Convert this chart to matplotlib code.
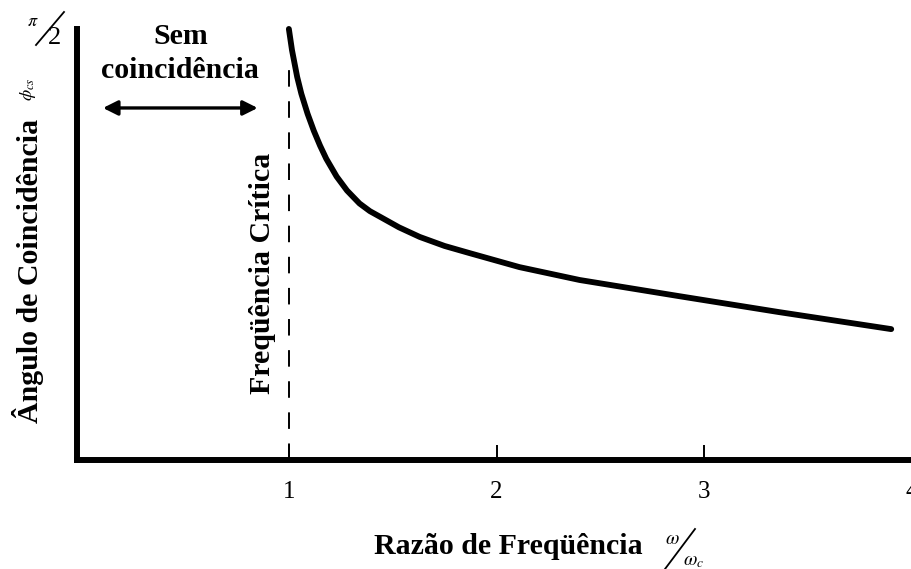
import numpy as np
from matplotlib import pyplot as plt
from matplotlib.lines import Line2D

plt.rcParams["font.family"] = ["Liberation Serif", "DejaVu Serif"]
plt.rcParams["mathtext.fontset"] = "stix"

# coincidence angle curve (x = w/wc, y = angle in rad)
ratio = [1.00, 1.015, 1.04, 1.06, 1.09, 1.12, 1.15, 1.18, 1.23, 1.28,
         1.34, 1.39, 1.44, 1.53, 1.63, 1.75, 1.87, 2.11, 2.40, 2.88,
         3.36, 3.90]
angle = [1.571, 1.494, 1.396, 1.335, 1.262, 1.200, 1.146, 1.098, 1.033, 0.982,
         0.935, 0.907, 0.886, 0.848, 0.813, 0.780, 0.754, 0.703, 0.656, 0.597,
         0.539, 0.477]

critical_ratio = 1.0
critical_top = 1.45
x_ticks = [1, 2, 3, 4]
x_tick_labels = ["1", "2", "3", "4"]

W, H = 912, 569


def fx(px):
    return px / W


def fy(py):
    return 1 - py / H


fig = plt.figure(figsize=(W / 100, H / 100), dpi=100)
ax = fig.add_axes([fx(77), fy(460), fx(912) - fx(77), fy(29) - fy(460)])

ax.plot(ratio, angle, color="black", lw=4.2, solid_capstyle="round",
        solid_joinstyle="round", clip_on=False, zorder=3)
ax.plot([critical_ratio, critical_ratio], [0, critical_top], color="black",
        lw=1.4, linestyle=(0, (8.5, 7.5)))

ax.set_xlim(-0.02, 4.0)
ax.set_ylim(0, np.pi / 2)

for side in ["top", "right"]:
    ax.spines[side].set_visible(False)
for side in ["left", "bottom"]:
    ax.spines[side].set_linewidth(4.3)
    ax.spines[side].set_capstyle("projecting")

ax.set_yticks([])
ax.set_xticks(x_ticks)
ax.set_xticklabels(x_tick_labels)
ax.tick_params(axis="x", direction="in", length=11, width=1.4, pad=15,
               labelsize=18)

bold = dict(fontweight="bold", color="black")
size = 21.5

# no-coincidence region
ax.annotate("", xy=(0.85, 1.283), xytext=(0.105, 1.283),
            arrowprops=dict(arrowstyle="<|-|>", lw=2.4, color="black",
                            mutation_scale=22, shrinkA=0, shrinkB=0))
ax.text(0.48, 1.545, "Sem", ha="center", va="center", fontsize=size, **bold)
ax.text(0.475, 1.42, "coincidência", ha="center", va="center", fontsize=size,
        **bold)
ax.text(0.875, 0.68, "Freqüência Crítica", ha="center", va="center",
        rotation=90, fontsize=size, **bold)

# pi/2 at the top of the y axis
fig.text(fx(33), fy(21), r"$\pi$", ha="center", va="center", fontsize=13)
fig.text(fx(55), fy(38), "2", ha="center", va="center", fontsize=19)
fig.add_artist(Line2D([fx(36), fx(64)], [fy(45), fy(12)], color="black",
                      lw=1.3))

# y label
fig.text(fx(28), fy(271), "Ângulo de Coincidência", ha="center", va="center",
         rotation=90, fontsize=size, **bold)
fig.text(fx(28), fy(89), r"$\phi_{cs}$", ha="center", va="center",
         rotation=90, fontsize=13)

# x label
fig.text(fx(508), fy(546), "Razão de Freqüência", ha="center", va="center",
         fontsize=size, **bold)
fig.text(fx(672), fy(540), r"$\omega$", ha="center", va="center", fontsize=14)
fig.text(fx(694), fy(561), r"$\omega_c$", ha="center", va="center",
         fontsize=14)
fig.add_artist(Line2D([fx(665), fx(695)], [fy(569), fy(529)], color="black",
                      lw=1.3))

fig.savefig("out.png", dpi=100)
